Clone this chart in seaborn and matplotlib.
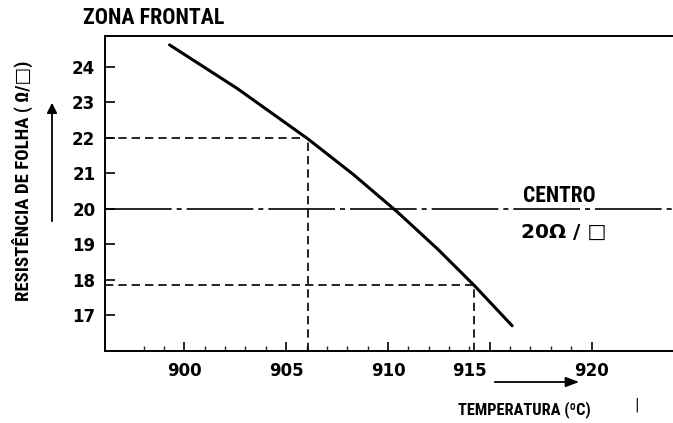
import matplotlib
matplotlib.use("Agg")
import matplotlib.pyplot as plt
import matplotlib.transforms as mtransforms
from matplotlib import font_manager
import numpy as np
import pandas as pd
import seaborn as sns

# ---- data ----
temperature = [899.27, 902.6, 906.05, 908.3, 910.49, 912.44, 914.23, 916.1]
resistance = [24.62, 23.39, 21.98, 20.97, 19.90, 18.87, 17.85, 16.71]
x_ticks = [900, 905, 910, 915, 920]
x_tick_labels = ["900", "905", "910", "915", "920"]
y_ticks = [17, 18, 19, 20, 21, 22, 23, 24]
y_tick_labels = ["17", "18", "19", "20", "21", "22", "23", "24"]
center_value = 20
marker_temps = [906.05, 914.23]
marker_res = [22.0, 17.87]

sns.set_theme(style="ticks")
plt.rcParams["font.family"] = ["DejaVu Sans"]
plt.rcParams["text.color"] = "black"

names = {f.name for f in font_manager.fontManager.ttflist}
cond = None
for cand in ["Liberation Sans Narrow", "DejaVu Sans Condensed", "Roboto Condensed",
             "Open Sans Condensed"]:
    if cand in names:
        cond = cand
        break
if cond is None:
    narrow = dict(family=["DejaVu Sans"], fontstretch="condensed")
else:
    narrow = dict(family=[cond, "DejaVu Sans"])

fig = plt.figure(figsize=(6.73, 4.23), dpi=100)
ax = fig.add_axes([105 / 673, 72 / 423, 1 - 105 / 673, (351 - 36) / 423])

df = pd.DataFrame({"T": temperature, "R": resistance})
sns.lineplot(data=df, x="T", y="R", ax=ax, color="black", linewidth=2.2, sort=False)

xmin, xmax = 896.1, 924.0
ymin, ymax = 16.0, 24.87
ax.set_xlim(xmin, xmax)
ax.set_ylim(ymin, ymax)

# centre line
ax.plot([xmin, xmax], [center_value, center_value], color="black", lw=1.2,
        linestyle=(0, (40, 3, 3, 3)))
# dashed guide lines
for t, r in zip(marker_temps, marker_res):
    ax.plot([xmin, t], [r, r], color="black", lw=1.2, linestyle=(0, (5, 3)))
    ax.plot([t, t], [ymin, r], color="black", lw=1.2, linestyle=(0, (5, 3)))

ax.set_xticks(x_ticks)
ax.set_xticklabels(x_tick_labels)
ax.set_xticks(np.arange(898, 921, 1), minor=True)
ax.set_yticks(y_ticks)
ax.set_yticklabels(y_tick_labels)
ax.tick_params(axis="x", which="major", direction="in", length=6.5, width=1.2,
               labelsize=12, pad=8, colors="black")
ax.tick_params(axis="x", which="minor", direction="in", length=3.5, width=1.0)
ax.tick_params(axis="y", which="major", direction="in", length=7, width=1.2,
               labelsize=12, pad=7, colors="black")
for lab in ax.get_xticklabels() + ax.get_yticklabels():
    lab.set_fontweight("bold")
ax.set_xlabel("")
ax.set_ylabel("")

for side in ["left", "bottom", "top"]:
    ax.spines[side].set_visible(True)
    ax.spines[side].set_linewidth(1.4)
    ax.spines[side].set_color("black")
ax.spines["right"].set_visible(False)

# shift 915 label slightly left like the reference
lab915 = ax.get_xticklabels()[3]
lab915.set_transform(lab915.get_transform() +
                     mtransforms.ScaledTranslation(-0.2, 0, fig.dpi_scale_trans))

# texts
fig.text(83 / 673, 1 - 18 / 423, "ZONA FRONTAL", fontsize=15.8,
         fontweight="bold", va="center", ha="left", color="black", **narrow)
fig.text(22 / 673, 1 - 181 / 423, "RESISTÊNCIA DE FOLHA ( Ω/□)",
         fontsize=13.5, fontweight="bold", rotation=90, va="center", ha="center",
         color="black", **narrow)
fig.text(458 / 673, 1 - 410 / 423, "TEMPERATURA (ºC)", fontsize=11.8,
         fontweight="bold", va="center", ha="left", color="black", **narrow)
fig.text(637 / 673, 1 - 405 / 423, "|", fontsize=10, va="center", ha="center",
         color="black")
fig.text(523 / 673, 1 - 196 / 423, "CENTRO", fontsize=15.5,
         fontweight="bold", va="center", ha="left", color="black", **narrow)
fig.text(521 / 673, 1 - 232 / 423, "20Ω / □", fontsize=14.5, fontweight="bold",
         va="center", ha="left", color="black")

# arrows
fig.add_artist(matplotlib.patches.FancyArrowPatch(
    (52 / 673, 1 - 224 / 423), (52 / 673, 1 - 100 / 423), transform=fig.transFigure,
    arrowstyle="-|>,head_length=6,head_width=3", color="black", lw=1.3))
fig.add_artist(matplotlib.patches.FancyArrowPatch(
    (492 / 673, 1 - 382 / 423), (582 / 673, 1 - 382 / 423), transform=fig.transFigure,
    arrowstyle="-|>,head_length=8,head_width=3", color="black", lw=1.3))

fig.savefig("out.png", dpi=100)
